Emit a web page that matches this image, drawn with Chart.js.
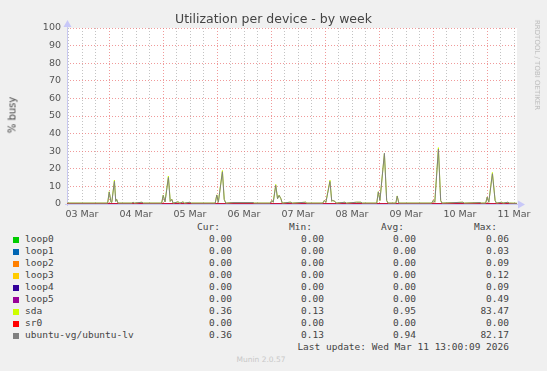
<!DOCTYPE html>
<html>
<head>
<meta charset="utf-8">
<script src="https://cdn.jsdelivr.net/npm/chart.js@4/dist/chart.umd.min.js"></script>
<style>
  html, body { margin: 0; padding: 0; background: #f0f0f0; }
  #wrap { position: relative; width: 547px; height: 371px; overflow: hidden; font-family: "DejaVu Sans", sans-serif; }
  #grafico { position: absolute; left: 0; top: 0; }
  .txt { position: absolute; white-space: nowrap; }
  .mono { font-family: "DejaVu Sans Mono", monospace; font-size: 9.5px; color: #444; }
  .box { position: absolute; width: 6px; height: 6px; }
</style>
</head>
<body>
<div id="wrap">
  <canvas id="grafico" width="547" height="220"></canvas>
  <div class="txt" style="left:0;width:547px;top:11px;text-align:center;font-size:12.5px;color:#444;">Utilization per device - by week</div>
  <div class="txt" style="left:12px;top:115px;font-size:10px;color:#444;transform:translate(-50%,-50%) rotate(-90deg);">% busy</div>
  <div class="txt" style="left:537px;top:65px;font-size:7px;color:#bbb;transform:translate(-50%,-50%) rotate(90deg);">RRDTOOL / TOBI OETIKER</div>
  <div id="legenda"></div>
  <div class="txt mono" style="right:38px;top:341px;">Last update: Wed Mar 11 13:00:09 2026</div>
  <div class="txt" style="left:0;width:522px;top:355px;text-align:center;font-size:7.5px;color:#c8c8c8;">Munin 2.0.57</div>
</div>
<script>
// Dados (horas desde 03 Mar 00:00)
const inicio = 5.33;
const fim = 205.33;
const rotulosDias = ['03 Mar', '04 Mar', '05 Mar', '06 Mar', '07 Mar', '08 Mar', '09 Mar', '10 Mar', '11 Mar'];

const tempos = [
  5.5, 12, 18, 23.4, 24.1, 24.9, 25.3, 26.4, 27.0, 27.4, 28.0,
  34.2, 34.7, 35.2, 38.7, 39.2, 47.4, 48.1, 48.9, 50.4, 51.2, 51.9, 52.5,
  54.7, 55.5, 56.9, 57.5, 60, 60.6, 71.2, 71.9, 72.6, 74.4, 75.2, 75.9,
  79.1, 88, 88.6, 95.6, 96.4, 97.0, 98.1, 98.9, 99.6, 100.4, 101.0,
  104.4, 104.9, 105.4, 111.4, 111.9, 119.0, 119.7, 120.4, 122.2, 123.0, 123.4, 124.4, 125.0,
  128.9, 129.5, 134, 136, 136.6, 143.0, 143.7, 144.4, 146.4, 147.4, 148.0,
  151.5, 152.1, 152.8, 167.4, 168.1, 168.8, 170.4, 171.4, 172.0,
  181.3, 181.9, 188.9, 189.5, 191.4, 192.1, 192.8, 194.4, 195.6, 196.2,
  198.5, 199.1, 201.3, 201.9, 205.3
];

const sda = [
  0.5, 0.5, 0.5, 0.5, 7.0, 1.0, 1.5, 13.6, 1.5, 2.7, 0.5,
  0.5, 1.0, 0.5, 1.0, 0.5, 0.5, 5.0, 1.2, 15.9, 1.5, 2.7, 0.5,
  1.2, 0.5, 1.2, 0.5, 1.0, 0.5, 0.5, 5.2, 1.0, 19.0, 2.7, 0.5,
  0.8, 0.8, 0.5, 0.5, 2.0, 1.0, 11.1, 3.0, 5.0, 3.0, 0.5,
  1.0, 1.0, 0.5, 1.0, 0.5, 0.5, 2.0, 1.0, 13.5, 1.5, 2.0, 1.5, 0.5,
  1.0, 0.5, 1.0, 1.0, 0.5, 0.5, 7.0, 2.0, 28.6, 2.0, 0.5,
  0.5, 4.6, 0.5, 0.5, 2.0, 1.0, 32.0, 2.0, 0.5,
  1.0, 0.5, 0.8, 0.5, 0.5, 4.0, 1.0, 17.9, 2.0, 0.5,
  1.0, 0.5, 1.0, 0.5, 0.4
];

const ubuntuLv = [
  0.5, 0.5, 0.5, 0.5, 6.8, 1.0, 1.5, 12.9, 1.5, 2.6, 0.5,
  0.5, 1.0, 0.5, 1.0, 0.5, 0.5, 4.9, 1.2, 15.1, 1.5, 2.6, 0.5,
  1.2, 0.5, 1.2, 0.5, 1.0, 0.5, 0.5, 5.1, 1.0, 18.3, 2.6, 0.5,
  0.8, 0.8, 0.5, 0.5, 2.0, 1.0, 10.6, 3.0, 4.9, 3.0, 0.5,
  1.0, 1.0, 0.5, 1.0, 0.5, 0.5, 2.0, 1.0, 12.8, 1.5, 2.0, 1.5, 0.5,
  1.0, 0.5, 1.0, 1.0, 0.5, 0.5, 6.9, 2.0, 28.8, 2.0, 0.5,
  0.5, 4.5, 0.5, 0.5, 2.0, 1.0, 31.2, 2.0, 0.5,
  1.0, 0.5, 0.8, 0.5, 0.5, 3.9, 1.0, 17.2, 2.0, 0.5,
  1.0, 0.5, 1.0, 0.5, 0.36
];

// séries que ficaram em zero a semana toda
const temposZero = [inicio, fim];
const zeros = [0, 0];

const nomes = ['loop0', 'loop1', 'loop2', 'loop3', 'loop4', 'loop5', 'sda', 'sr0', 'ubuntu-vg/ubuntu-lv'];
const cores = ['#00cc00', '#0066b3', '#ff8000', '#ffcc00', '#330099', '#990099', '#ccff00', '#ff0000', '#808080'];
const atual = ['0.00', '0.00', '0.00', '0.00', '0.00', '0.00', '0.36', '0.00', '0.36'];
const minimo = ['0.00', '0.00', '0.00', '0.00', '0.00', '0.00', '0.13', '0.00', '0.13'];
const media = ['0.00', '0.00', '0.00', '0.00', '0.00', '0.00', '0.95', '0.00', '0.94'];
const maximo = ['0.06', '0.03', '0.09', '0.12', '0.09', '0.49', '83.47', '0.00', '82.17'];

function pares(xs, ys) {
    return xs.map((x, i) => ({ x: x, y: ys[i] }));
}

// legenda no estilo munin
function criarLegenda() {
    const leg = document.getElementById('legenda');
    let html = '';
    html += '<div class="txt mono" style="right:327px;top:221px;">Cur:</div>';
    html += '<div class="txt mono" style="right:235px;top:221px;">Min:</div>';
    html += '<div class="txt mono" style="right:143px;top:221px;">Avg:</div>';
    html += '<div class="txt mono" style="right:50px;top:221px;">Max:</div>';
    nomes.forEach((nome, i) => {
        const y = 233 + i * 12.05;
        html += '<div class="box" style="left:13px;top:' + (y + 3.5) + 'px;background:' + cores[i] + ';"></div>';
        html += '<div class="txt mono" style="left:25px;top:' + y + 'px;">' + nome + '</div>';
        html += '<div class="txt mono" style="right:315px;top:' + y + 'px;">' + atual[i] + '</div>';
        html += '<div class="txt mono" style="right:223px;top:' + y + 'px;">' + minimo[i] + '</div>';
        html += '<div class="txt mono" style="right:131px;top:' + y + 'px;">' + media[i] + '</div>';
        html += '<div class="txt mono" style="right:38px;top:' + y + 'px;">' + maximo[i] + '</div>';
    });
    leg.innerHTML = html;
}

// fundo branco da área do gráfico + eixos com setas (estilo rrdtool)
const pluginEixos = {
    id: 'eixos',
    beforeDraw(chart) {
        const { ctx, chartArea: a } = chart;
        ctx.save();
        ctx.fillStyle = '#ffffff';
        ctx.fillRect(a.left, a.top, a.right - a.left, a.bottom - a.top);
        ctx.restore();
    },
    beforeDatasetsDraw(chart) {
        const { ctx, chartArea: a } = chart;
        ctx.save();
        ctx.strokeStyle = '#c8c8f0';
        ctx.fillStyle = '#c8c8f8';
        ctx.lineWidth = 1;
        ctx.beginPath();
        ctx.moveTo(a.left + 0.5, a.bottom + 2);
        ctx.lineTo(a.left + 0.5, a.top - 4);
        ctx.moveTo(a.left - 2, a.bottom + 0.5);
        ctx.lineTo(a.right + 3, a.bottom + 0.5);
        ctx.stroke();
        ctx.beginPath();
        ctx.moveTo(a.left - 3.5, a.top - 1);
        ctx.lineTo(a.left + 4.5, a.top - 1);
        ctx.lineTo(a.left + 0.5, a.top - 8);
        ctx.closePath();
        ctx.fill();
        ctx.beginPath();
        ctx.moveTo(a.right + 1, a.bottom - 3.5);
        ctx.lineTo(a.right + 1, a.bottom + 4.5);
        ctx.lineTo(a.right + 8, a.bottom + 0.5);
        ctx.closePath();
        ctx.fill();
        ctx.restore();
    }
};

function criarGrafico() {
    const ctx = document.getElementById('grafico').getContext('2d');
    const datasets = nomes.map((nome, i) => {
        let dados;
        if (nome === 'sda') dados = pares(tempos, sda);
        else if (nome === 'ubuntu-vg/ubuntu-lv') dados = pares(tempos, ubuntuLv);
        else dados = pares(temposZero, zeros);
        return {
            label: nome,
            data: dados,
            borderColor: cores[i],
            backgroundColor: cores[i],
            borderWidth: 1,
            pointRadius: 0,
            tension: 0,
            // o último da lista fica por cima, como no rrdtool
            order: nomes.length - i
        };
    });

    new Chart(ctx, {
        type: 'line',
        data: { datasets: datasets },
        plugins: [pluginEixos],
        options: {
            responsive: false,
            animation: false,
            parsing: false,
            layout: { padding: { left: 0, top: 28, right: 30, bottom: 0 } },
            plugins: { legend: { display: false }, tooltip: { enabled: false }, title: { display: false } },
            scales: {
                x: {
                    type: 'linear',
                    min: inicio,
                    max: fim,
                    afterFit: s => { s.height = 16; },
                    afterBuildTicks: s => {
                        const t = [];
                        for (let h = 6; h < fim; h += 6) t.push({ value: h });
                        s.ticks = t;
                    },
                    grid: {
                        drawTicks: false,
                        lineWidth: 1,
                        color: c => (c.tick && c.tick.value % 24 === 0) ? 'rgba(235,120,120,0.75)' : 'rgba(185,185,185,0.85)'
                    },
                    border: { display: false, dash: [1, 2] },
                    ticks: {
                        autoSkip: false,
                        maxRotation: 0,
                        padding: 5,
                        color: '#555',
                        font: { family: 'DejaVu Sans', size: 9.5 },
                        callback: v => (v % 24 === 12) ? rotulosDias[(v - 12) / 24] : ''
                    }
                },
                y: {
                    min: 0,
                    max: 100,
                    afterFit: s => { s.width = 67; },
                    grid: {
                        drawTicks: false,
                        lineWidth: 1,
                        color: c => (c.tick && c.tick.value % 10 === 0) ? 'rgba(235,120,120,0.75)' : 'rgba(185,185,185,0.85)'
                    },
                    border: { display: false, dash: [1, 2] },
                    ticks: {
                        stepSize: 5,
                        padding: 6,
                        color: '#555',
                        font: { family: 'DejaVu Sans', size: 9.5 },
                        callback: v => (v % 10 === 0) ? v : ''
                    }
                }
            }
        }
    });
}

criarLegenda();
criarGrafico();
</script>
</body>
</html>
